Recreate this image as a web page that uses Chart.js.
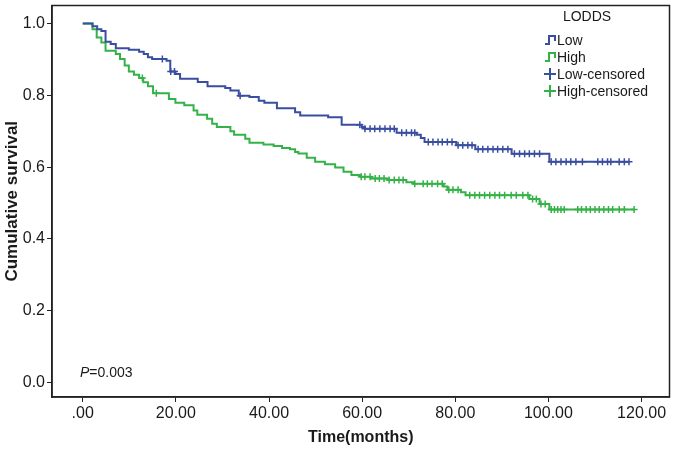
<!DOCTYPE html>
<html>
<head>
<meta charset="utf-8">
<script src="https://cdn.jsdelivr.net/npm/chart.js@4.4.1/dist/chart.umd.min.js"></script>
<style>
  body { margin: 0; background: #fff; }
  #wrap { width: 675px; height: 450px; }
</style>
</head>
<body>
<div id="wrap"><canvas id="kmChart" width="675" height="450"></canvas></div>
<script>
// === Data ===
const lowTimes = [0, 2.1, 3.1, 4.0, 4.9, 6.0, 7.1, 9.9, 12.1, 13.1, 14.0, 14.9, 18.0, 18.8, 19.9, 20.9,
  24.7, 26.8, 30.6, 31.7, 33.5, 35.8, 37.8, 39.0, 41.7, 45.6, 46.7, 52.7, 55.6, 59.9, 60.6, 67.4,
  71.7, 72.6, 73.4, 80.2, 84.3, 92.1, 100.2, 117.4];
const lowSurv = [1.0, 0.992, 0.984, 0.979, 0.949, 0.943, 0.931, 0.927, 0.921, 0.915, 0.906, 0.901, 0.896, 0.866, 0.859, 0.846,
  0.837, 0.825, 0.820, 0.813, 0.799, 0.795, 0.785, 0.779, 0.764, 0.753, 0.744, 0.739, 0.718, 0.712, 0.707, 0.696,
  0.690, 0.681, 0.670, 0.661, 0.650, 0.637, 0.615, 0.615];

const highTimes = [0, 2.1, 3.0, 4.0, 4.9, 7.1, 8.0, 9.0, 9.9, 11.0, 12.1, 13.0, 14.0, 15.1, 18.5, 19.9,
  21.8, 23.8, 24.6, 26.7, 27.8, 28.8, 31.7, 32.5, 34.9, 35.8, 38.8, 41.0, 42.8, 44.5, 45.6, 46.3,
  48.1, 49.9, 52.0, 54.2, 56.0, 57.7, 59.6, 61.9, 65.5, 69.5, 71.0, 77.5, 78.3, 81.2, 82.2, 95.9,
  98.1, 100.2, 118.4];
const highSurv = [1.0, 0.984, 0.961, 0.947, 0.924, 0.915, 0.901, 0.883, 0.866, 0.857, 0.848, 0.836, 0.825, 0.806, 0.790, 0.779,
  0.772, 0.758, 0.746, 0.735, 0.721, 0.712, 0.700, 0.690, 0.679, 0.668, 0.663, 0.659, 0.653, 0.650, 0.642, 0.638,
  0.626, 0.615, 0.608, 0.599, 0.587, 0.578, 0.573, 0.568, 0.564, 0.558, 0.554, 0.546, 0.537, 0.530, 0.522, 0.511,
  0.497, 0.482, 0.482];

const lowCensored = [17.1, 18.9, 19.7, 33.8, 59.5, 60.6, 61.7, 62.7, 63.8, 64.9, 66.0, 66.9, 68.5, 69.5, 70.6, 71.3,
  74.2, 75.2, 76.3, 77.2, 78.3, 79.3, 80.6, 81.6, 82.7, 83.6, 84.9, 85.9, 87.0, 88.1, 89.1, 90.2, 91.3,
  92.7, 93.8, 94.9, 95.9, 97.0, 98.1, 100.6, 101.6, 102.7, 103.8, 104.8, 105.9, 107.3, 110.6, 111.6,
  112.7, 113.4, 115.2, 116.3, 117.3];
const highCensored = [12.8, 15.8, 59.8, 60.6, 61.7, 62.8, 63.7, 64.7, 65.8, 66.9, 67.9, 68.8, 71.3, 73.1, 74.0, 75.0,
  76.2, 77.2, 78.6, 79.5, 80.6, 83.1, 84.2, 85.2, 86.3, 87.4, 88.5, 89.5, 90.6, 92.0, 93.1, 94.5, 95.6,
  96.6, 97.4, 98.4, 99.3, 100.6, 101.3, 102.0, 102.7, 103.4, 106.3, 107.1, 108.1, 109.0, 110.0, 110.9,
  111.9, 112.9, 113.8, 115.2, 116.3, 118.4];

const xTickValues = [0, 20, 40, 60, 80, 100, 120];
const xTickLabels = [".00", "20.00", "40.00", "60.00", "80.00", "100.00", "120.00"];
const yTickValues = [0, 0.2, 0.4, 0.6, 0.8, 1.0];
const yTickLabels = ["0.0", "0.2", "0.4", "0.6", "0.8", "1.0"];
const seriesNames = ["Low", "High", "Low-censored", "High-censored"];
const legendTitle = "LODDS";
const pLabel = "P";
const pValue = "=0.003";

// === Warna ===
const blue = "rgb(58,78,160)";
const green = "rgb(52,178,72)";
const fontFam = "'Liberation Sans', Arial, sans-serif";

// survival value at a censored time (last step at or before t)
function survivalAt(times, surv, t) {
  let v = surv[0];
  for (let i = 0; i < times.length; i++) {
    if (times[i] <= t) v = surv[i];
  }
  return v;
}

function toPoints(times, surv) {
  return times.map((t, i) => ({ x: t, y: surv[i] }));
}

function censorPoints(list, times, surv) {
  return list.map(t => ({ x: t, y: survivalAt(times, surv, t) }));
}

// === Frame, legend, p-value ===
const extrasPlugin = {
  id: "extras",
  afterDraw(chart) {
    const { ctx, chartArea } = chart;
    ctx.save();
    ctx.strokeStyle = "#222";
    ctx.lineWidth = 1.5;
    ctx.strokeRect(chartArea.left, chartArea.top, chartArea.right - chartArea.left, chartArea.bottom - chartArea.top);

    // legend
    ctx.fillStyle = "#1a1a1a";
    ctx.font = "14px " + fontFam;
    ctx.textBaseline = "middle";
    ctx.textAlign = "center";
    ctx.fillText(legendTitle, 587, 17);
    ctx.textAlign = "left";
    const rows = [40, 57, 74, 91];
    const cols = [blue, green, blue, green];
    rows.forEach((y, i) => {
      ctx.strokeStyle = cols[i];
      ctx.lineWidth = 2;
      ctx.beginPath();
      if (i < 2) {
        ctx.moveTo(545, y + 4);
        ctx.lineTo(549, y + 4);
        ctx.lineTo(549, y - 4);
        ctx.lineTo(555, y - 4);
        ctx.lineTo(555, y + 1);
      } else {
        ctx.moveTo(544, y);
        ctx.lineTo(556, y);
        ctx.moveTo(550, y - 6);
        ctx.lineTo(550, y + 6);
      }
      ctx.stroke();
      ctx.fillStyle = "#1a1a1a";
      ctx.fillText(seriesNames[i], 557, y + 1);
    });

    // p value
    ctx.font = "italic 14px " + fontFam;
    ctx.fillText(pLabel, 80, 373);
    const pw = ctx.measureText(pLabel).width;
    ctx.font = "14px " + fontFam;
    ctx.fillText(pValue, 80 + pw, 373);
    ctx.restore();
  }
};

// === Chart ===
const ctx = document.getElementById("kmChart").getContext("2d");
const kmChart = new Chart(ctx, {
  type: "line",
  data: {
    datasets: [
      {
        label: seriesNames[0],
        data: toPoints(lowTimes, lowSurv),
        borderColor: blue,
        borderWidth: 2,
        stepped: "before",
        pointRadius: 0,
        fill: false
      },
      {
        label: seriesNames[1],
        data: toPoints(highTimes, highSurv),
        borderColor: green,
        borderWidth: 2,
        stepped: "before",
        pointRadius: 0,
        fill: false
      },
      {
        label: seriesNames[2],
        data: censorPoints(lowCensored, lowTimes, lowSurv),
        showLine: false,
        pointStyle: "cross",
        pointRadius: 3.5,
        pointBorderWidth: 1.5,
        borderColor: blue,
        pointBorderColor: blue
      },
      {
        label: seriesNames[3],
        data: censorPoints(highCensored, highTimes, highSurv),
        showLine: false,
        pointStyle: "cross",
        pointRadius: 3.5,
        pointBorderWidth: 1.5,
        borderColor: green,
        pointBorderColor: green
      }
    ]
  },
  options: {
    responsive: false,
    animation: false,
    layout: { padding: { top: 5, right: 5, left: 0, bottom: 0 } },
    plugins: {
      legend: { display: false },
      tooltip: { enabled: false }
    },
    scales: {
      x: {
        type: "linear",
        min: -6.6,
        max: 126,
        afterBuildTicks: scale => { scale.ticks = xTickValues.map(v => ({ value: v })); },
        afterFit: scale => {
          scale.height = 53;
          scale.paddingLeft = 0;
          scale.paddingRight = 0;
        },
        ticks: {
          callback: (v) => xTickLabels[xTickValues.indexOf(v)],
          font: { family: fontFam, size: 16 },
          color: "#1a1a1a",
          padding: 2,
          maxRotation: 0
        },
        grid: { drawOnChartArea: false, drawTicks: true, tickLength: 5, color: "#222" },
        border: { display: true, color: "#222", width: 1.5 },
        title: {
          display: true,
          text: "Time(months)",
          font: { family: fontFam, size: 16, weight: "bold" },
          color: "#1a1a1a",
          padding: { top: 0, bottom: 3 }
        }
      },
      y: {
        type: "linear",
        min: -0.04,
        max: 1.05,
        afterBuildTicks: scale => { scale.ticks = yTickValues.map(v => ({ value: v })); },
        afterFit: scale => {
          scale.width = 52;
          scale.paddingTop = 0;
          scale.paddingBottom = 0;
        },
        ticks: {
          callback: (v) => yTickLabels[yTickValues.indexOf(v)],
          font: { family: fontFam, size: 16 },
          color: "#1a1a1a",
          padding: 2
        },
        grid: { drawOnChartArea: false, drawTicks: true, tickLength: 5, color: "#222" },
        border: { display: true, color: "#222", width: 1.5 },
        title: {
          display: true,
          text: "Cumulative survival",
          font: { family: fontFam, size: 17, weight: "bold" },
          color: "#1a1a1a",
          padding: { top: 2, bottom: 0 }
        }
      }
    }
  },
  plugins: [extrasPlugin]
});
</script>
</body>
</html>
